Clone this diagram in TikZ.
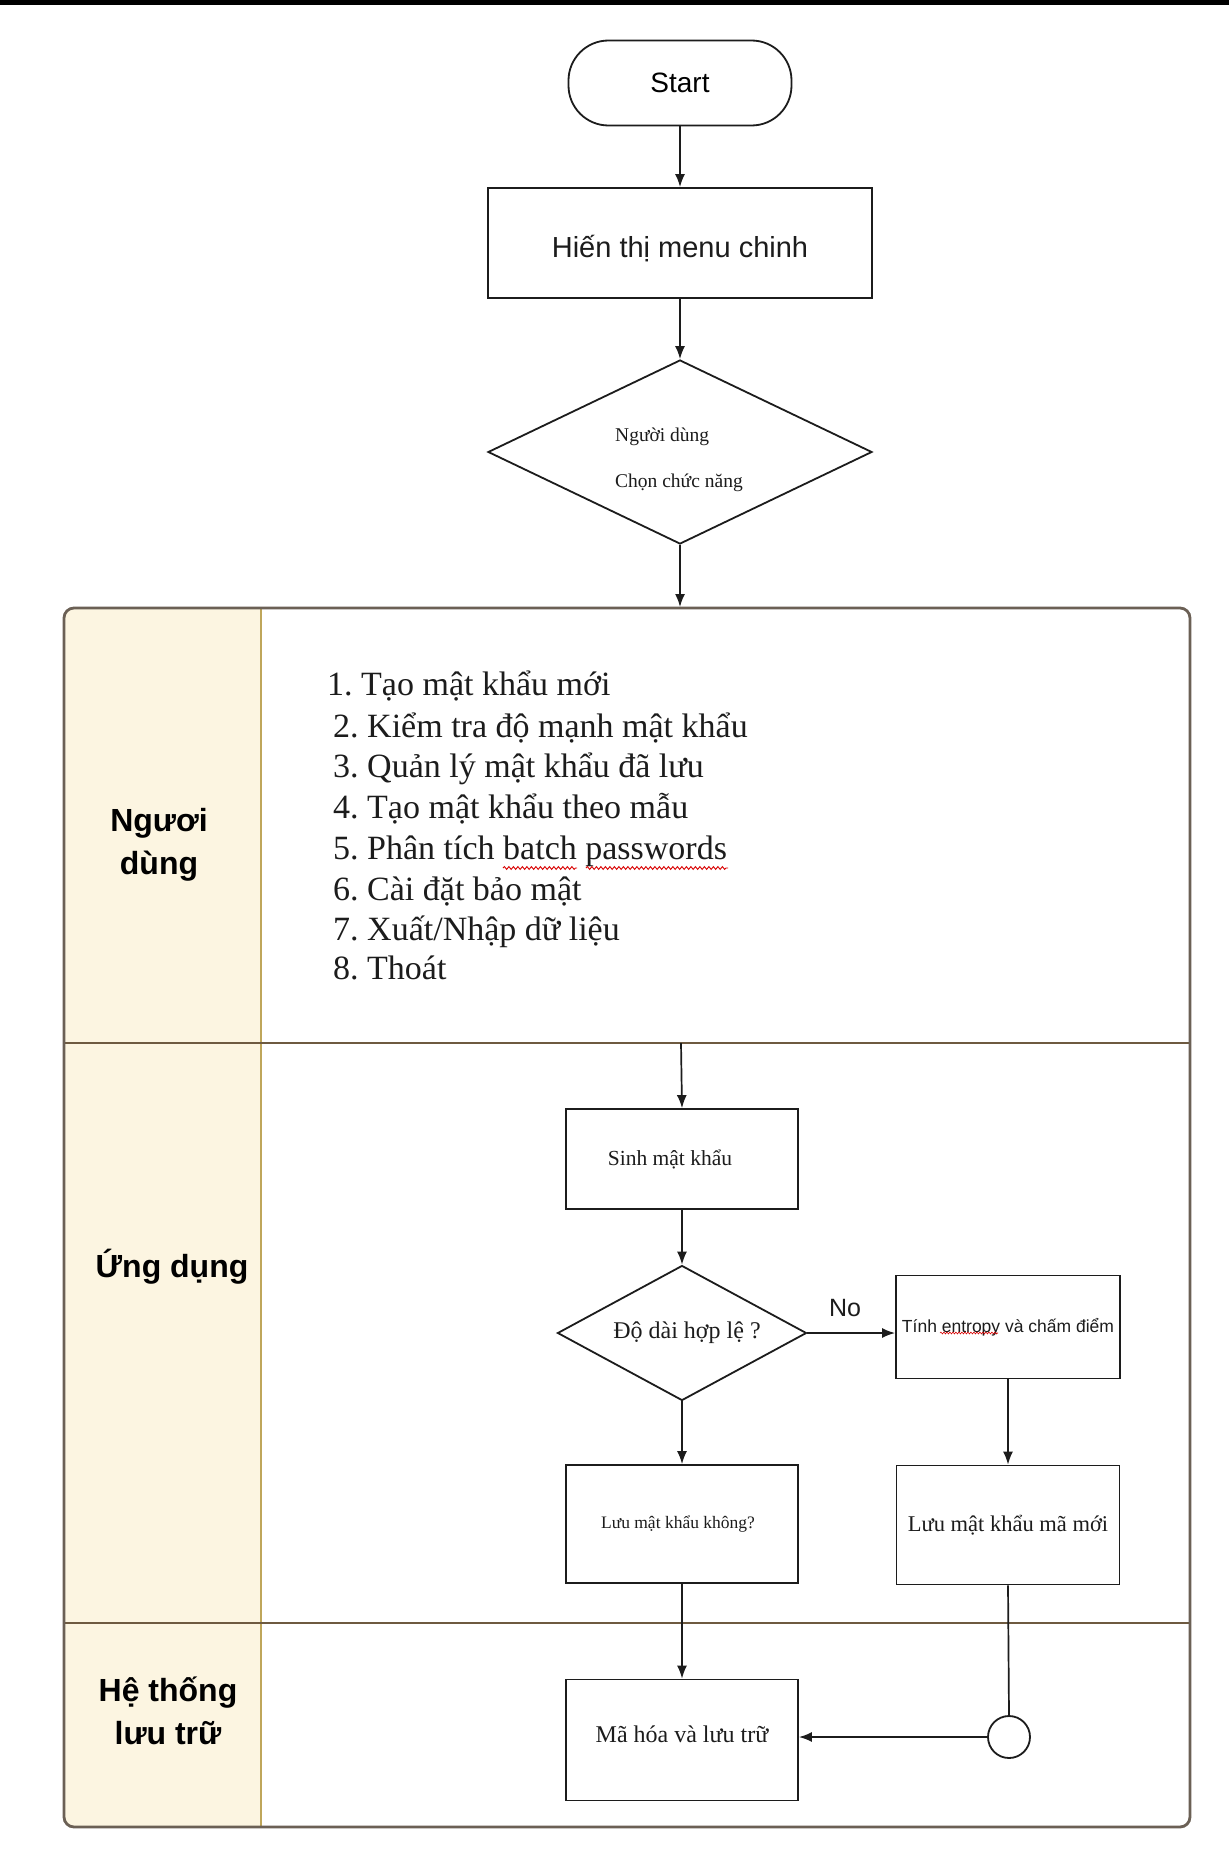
\documentclass[tikz,border=0pt]{standalone}
\usepackage{fontspec}
\setmainfont{Liberation Serif}
\newfontfamily\lsans{Liberation Sans}
\usetikzlibrary{arrows.meta,shapes.geometric,decorations.pathmorphing}
\definecolor{cream}{HTML}{FCF5E1}
\definecolor{poolline}{HTML}{6B6055}
\definecolor{lanesep}{HTML}{6E5A40}
\definecolor{divline}{HTML}{BFA65A}
\definecolor{ink}{HTML}{1C1C1C}
\newcommand{\fsz}[1]{\fontsize{#1}{#1}\selectfont}
\frenchspacing
\begin{document}
\begin{tikzpicture}[x=1pt,y=-1pt,
  box/.style={draw=ink, line width=1.8pt, rectangle, inner sep=0pt, text=ink},
  decis/.style={draw=ink, line width=1.8pt, diamond, inner sep=0pt, text=ink},
  arr/.style={-{Latex[length=13pt,width=10pt]}, line width=1.7pt, draw=ink},
  plain/.style={line width=1.7pt, draw=ink},
  menuitem/.style={anchor=base west, inner sep=0pt, text=ink, font=\fsz{34}},
  lanelabel/.style={align=center, text=black, font=\lsans\bfseries\fontsize{32}{43}\selectfont},
  squig/.style={draw=red!85!black, line width=0.9pt, decorate, decoration={snake, amplitude=1.4pt, segment length=4.5pt}}
]
\useasboundingbox (0,0) rectangle (1229,1857);
\fill[white] (0,0) rectangle (1229,1857);
\fill[black] (0,0) rectangle (1229,5);

% ---------- top flow ----------
\node[draw=ink, line width=1.8pt, rounded corners=40pt, minimum width=223pt, minimum height=85pt, inner sep=0pt,
      font=\lsans\fsz{28}] (start) at (680,83) {Start};
\node[box, minimum width=384pt, minimum height=110pt, font=\lsans\fsz{29}] (menu) at (680,243) {\raisebox{-14pt}[0pt][0pt]{Hiến thị menu chinh}};
\node[decis, minimum width=384pt, minimum height=184pt, aspect=2.09] (choose) at (680,452) {};
\node[anchor=west, inner sep=0pt, text=ink, font=\fsz{19.5}] (chooseA) at (615,437) {Người dùng};
\node[anchor=west, inner sep=0pt, text=ink, font=\fsz{19.5}] (chooseB) at (615,483) {Chọn chức năng};

\draw[arr] (start) -- (menu);
\draw[arr] (menu) -- (choose);

% ---------- pool ----------
\coordinate (pooltop) at (680,607);
\fill[white] (64,608) rectangle (1190,1827);
\fill[cream] (261,608) [rounded corners=10pt] -- (64,608) -- (64,1827) [sharp corners] -- (261,1827) -- cycle;
\draw[divline, line width=1.5pt] (261,608) -- (261,1827);
\draw[lanesep, line width=2.8pt] (64,1043) -- (1190,1043);
\draw[lanesep, line width=2.8pt] (64,1623) -- (1190,1623);
\draw[poolline, line width=2.8pt, rounded corners=10pt] (64,608) rectangle (1190,1827);

\draw[arr] (choose.south) -- (pooltop);

% lane labels
\node[lanelabel] (lab1) at (159,845) {Ngươi\\dùng};
\node[lanelabel] (lab2) at (172,1267) {Ứng dụng};
\node[lanelabel] (lab3) at (168,1711) {Hệ thống\\lưu trữ};

% menu list
\node[menuitem] (m1) at (327,695) {1. Tạo mật khẩu mới};
\node[menuitem] (m2) at (333,737) {2. Kiểm tra độ mạnh mật khẩu};
\node[menuitem] (m3) at (333,777) {3. Quản lý mật khẩu đã lưu};
\node[menuitem] (m4) at (333,818) {4. Tạo mật khẩu theo mẫu};
\node[menuitem] (m5) at (333,859) {5. Phân tích batch passwords};
\node[menuitem] (m6) at (333,900) {6. Cài đặt bảo mật};
\node[menuitem] (m7) at (333,940) {7. Xuất/Nhập dữ liệu};
\node[menuitem] (m8) at (333,979) {8. Thoát};
\draw[squig] (m5.base west) ++(170,9) coordinate (sq1a) -- ++(74,0) coordinate (sq1b);
\draw[squig] (m5.base west) ++(253,9) coordinate (sq2a) -- ++(142,0) coordinate (sq2b);

% ---------- application lane ----------
\coordinate (lanein) at (681,1043);
\node[box, minimum width=232pt, minimum height=100pt, font=\fsz{21.5}] (gen) at (682,1159) {\kern-12pt Sinh mật khẩu\kern12pt};
\node[decis, minimum width=249pt, minimum height=135pt, aspect=1.84, font=\fsz{24}] (valid) at (682,1333) {\hspace{10pt}Độ dài hợp lệ ?};
\node[box, minimum width=224pt, minimum height=103pt, font=\lsans\fsz{17.5}] (ent) at (1008,1327) {\raisebox{4pt}{Tính entropy và chấm điểm}};
\node[box, minimum width=223pt, minimum height=119pt, font=\fsz{22.5}] (newp) at (1008,1525) {\raisebox{2pt}{Lưu mật khẩu mã mới}};
\node[box, minimum width=232pt, minimum height=118pt, font=\fsz{17.5}] (ask) at (682,1524) {\kern-4pt Lưu mật khẩu không?\kern4pt};
\draw[squig, line width=0.6pt, decoration={snake, amplitude=0.9pt, segment length=3pt}] (940,1333) -- (998,1333);

\draw[arr] (lanein) -- (gen.north);
\draw[arr] (gen) -- (valid);
\draw[arr] (valid.east) -- (ent.west |- valid.east);
\node[text=ink, font=\lsans\fsz{25}, inner sep=0pt] (nolab) at (845,1308) {No};
\draw[arr] (ent) -- (newp);
\draw[arr] (valid.south) -- (ask.north);

% ---------- storage lane ----------
\node[box, minimum width=232pt, minimum height=121pt, font=\fsz{24}] (enc) at (682,1740) {\raisebox{11pt}{Mã hóa và lưu trữ}};
\node[draw=ink, line width=1.8pt, circle, minimum size=42pt, inner sep=0pt] (merge) at (1009,1737) {};

\draw[arr] (ask) -- (enc);
\draw[plain] (newp.south) -- (merge.north);
\draw[arr] (merge.west) -- (merge.west -| enc.east);
\end{tikzpicture}
\end{document}
